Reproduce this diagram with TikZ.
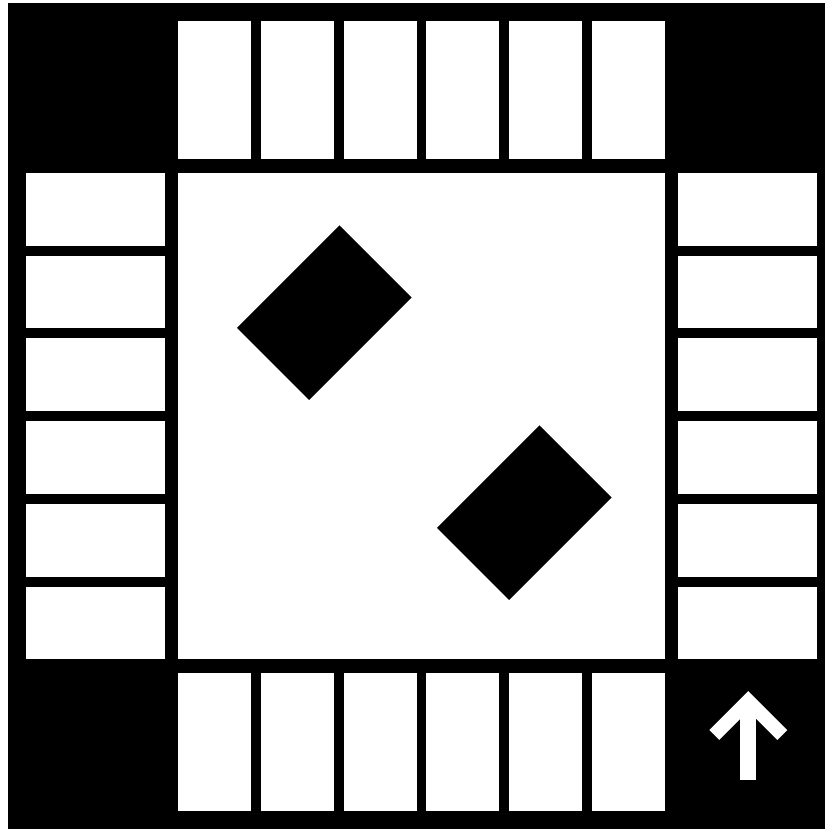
\documentclass[tikz,border=0pt]{standalone}
\begin{document}
\begin{tikzpicture}[x=1pt,y=-1pt,
  cell/.style={fill=white},
  piece/.style={fill=black},
  arrowline/.style={draw=white,line width=14pt,line join=miter,line cap=butt}]
\useasboundingbox (0,0) rectangle (825,830);
\fill[white] (0,0) rectangle (825,830);
\fill[black] (8,3) rectangle (825,829);
% centre field
\fill[cell] (178,173) rectangle (665,659);
% top and bottom rows
\foreach \i in {0,...,5} {
  \pgfmathsetmacro\xa{178+\i*82.76}
  \fill[cell] (\xa,21) rectangle ++(73.2,138);
  \fill[cell] (\xa,673) rectangle ++(73.2,138);
}
% left and right columns
\foreach \i in {0,...,5} {
  \pgfmathsetmacro\ya{173+\i*82.7}
  \fill[cell] (26,\ya) rectangle ++(139,72.7);
  \fill[cell] (678,\ya) rectangle ++(139,72.7);
}
% pieces
\fill[piece] (339.5,225.4) -- ++(72.1,72.1) -- ++(-102.5,102.5) -- ++(-72.1,-72.1) -- cycle;
\fill[piece] (539.5,425.4) -- ++(72.1,72.1) -- ++(-102.5,102.5) -- ++(-72.1,-72.1) -- cycle;
% arrow
\draw[arrowline] (714.3,735) -- (748.3,701) -- (782.3,735);
\fill[white] (740,703) rectangle (756,780);
\end{tikzpicture}
\end{document}
